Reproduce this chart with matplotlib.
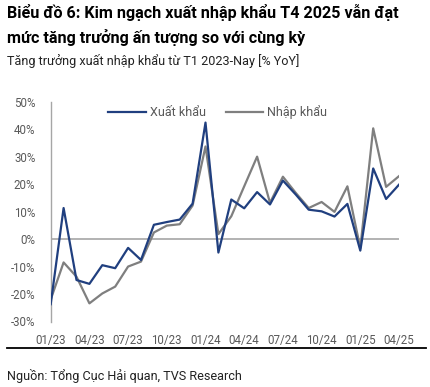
import matplotlib.pyplot as plt
from matplotlib.lines import Line2D

plt.rcParams['font.family'] = ['Roboto', 'DejaVu Sans']

# Data: monthly YoY growth, 01/2023 - 04/2025
months = ['01/23', '02/23', '03/23', '04/23', '05/23', '06/23', '07/23', '08/23', '09/23',
          '10/23', '11/23', '12/23', '01/24', '02/24', '03/24', '04/24', '05/24', '06/24',
          '07/24', '08/24', '09/24', '10/24', '11/24', '12/24', '01/25', '02/25', '03/25',
          '04/25']
xuat_khau = [-23.7, 11.3, -14.9, -16.3, -9.5, -10.6, -3.2, -7.6, 5.2, 6.2, 7.1, 12.9,
             42.4, -4.9, 14.4, 11.2, 17.1, 12.6, 21.3, 16.2, 10.7, 10.1, 8.2, 12.8,
             -4.2, 25.7, 14.6, 19.8]
nhap_khau = [-22.0, -8.5, -13.7, -23.4, -19.8, -17.3, -10.0, -8.2, 2.4, 4.9, 5.4, 12.2,
             33.7, 1.8, 8.3, 19.2, 30.0, 13.2, 22.7, 16.8, 11.3, 13.5, 9.9, 19.2,
             -3.3, 40.3, 19.0, 22.9]
yticks = [-30, -20, -10, 0, 10, 20, 30, 40, 50]

W, H = 430, 387
fig = plt.figure(figsize=(W / 100, H / 100), dpi=100)
ax = fig.add_axes([50.7 / W, 1 - 321.5 / H, (399 - 50.7) / W, (321.5 - 101.7) / H])

blue = '#203F7F'
gray = '#7F7F7F'
x = list(range(len(months)))
ax.plot(x, xuat_khau, color=blue, lw=1.6, label='Xuất khẩu', zorder=3)
ax.plot(x, nhap_khau, color=gray, lw=1.6, label='Nhập khẩu', zorder=2)
ax.axhline(0, color='#A6A6A6', lw=1.2, zorder=1)

ax.set_xlim(0, len(months) - 1)
ax.set_ylim(-30, 50)
ax.set_yticks(yticks)
ax.set_yticklabels([f'{v}%' for v in yticks])
ax.set_xticks(x[::3])
ax.set_xticklabels(months[::3])
ax.tick_params(axis='both', length=0, labelsize=8.3, labelcolor='#595959')
ax.tick_params(axis='x', pad=9)
ax.tick_params(axis='y', pad=11)
for s in ['top', 'right', 'bottom']:
    ax.spines[s].set_visible(False)
ax.spines['left'].set_color('#A6A6A6')
ax.spines['left'].set_linewidth(1.0)

ax.legend(loc='upper center', bbox_to_anchor=(0.479, 1.035), ncol=2, frameon=False,
          fontsize=9, handlelength=3.0, handletextpad=0.3, columnspacing=1.6,
          labelcolor='#595959')

fig.text(7 / W, 1 - 18.3 / H, 'Biểu đồ 6: Kim ngạch xuất nhập khẩu T4 2025 vẫn đạt',
         fontsize=11.6, fontweight='bold', va='baseline', ha='left')
fig.text(7 / W, 1 - 43.3 / H, 'mức tăng trưởng ấn tượng so với cùng kỳ',
         fontsize=11.6, fontweight='bold', va='baseline', ha='left')
fig.text(7 / W, 1 - 65 / H, 'Tăng trưởng xuất nhập khẩu từ T1 2023-Nay [% YoY]',
         fontsize=9.1, va='baseline', ha='left', color='#222222')
fig.add_artist(Line2D([7 / W, 426 / W], [1 - 347.7 / H] * 2, color='black', lw=1.3))
fig.text(7 / W, 1 - 380 / H, 'Nguồn: Tổng Cục Hải quan, TVS Research',
         fontsize=9.1, va='baseline', ha='left', color='#222222')

fig.savefig('out.png', dpi=100)
